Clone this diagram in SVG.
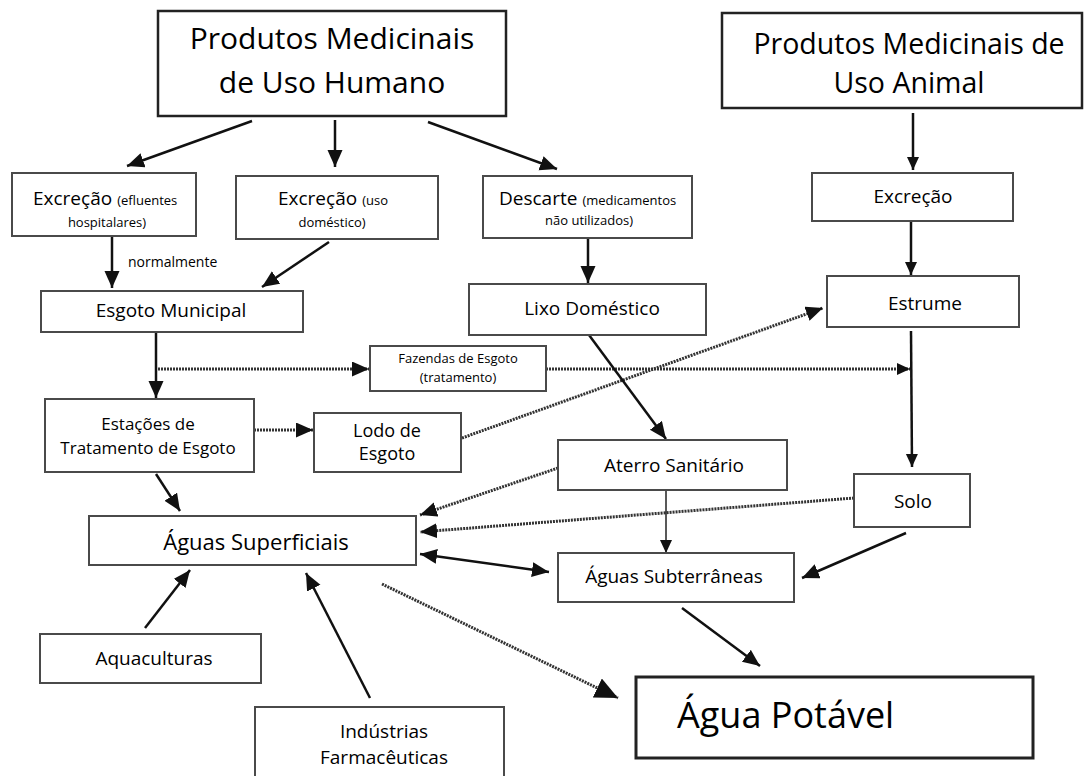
<svg xmlns="http://www.w3.org/2000/svg" width="1084" height="776" viewBox="0 0 1084 776">
<style>
.box{fill:#fff;stroke:#4a4a4a;stroke-width:2}
.hbox{fill:#fff;stroke:#222;stroke-width:2.5}
text{font-family:"Open Sans","Liberation Sans",sans-serif;fill:#000}
.c{text-anchor:middle}
.f19{font-size:19px}
.f13{font-size:13px}
.ln{fill:none;stroke:#111;stroke-width:2.5}
.thin{fill:none;stroke:#222;stroke-width:1.5}
.dot{fill:none;stroke:#333;stroke-width:3;stroke-dasharray:2 1}
</style>
<defs>
<marker id="ah" markerUnits="userSpaceOnUse" markerWidth="18" markerHeight="16" refX="17" refY="7.5" orient="auto-start-reverse">
<path d="M0,0 L17,7.5 L0,15 z" fill="#111"/>
</marker>
<marker id="ahs" markerUnits="userSpaceOnUse" markerWidth="14" markerHeight="13" refX="13" refY="6" orient="auto">
<path d="M0,0 L13,6 L0,12 z" fill="#111"/>
</marker>
<marker id="ahb" markerUnits="userSpaceOnUse" markerWidth="24" markerHeight="22" refX="23" refY="10.5" orient="auto">
<path d="M0,0 L23,10.5 L0,21 z" fill="#111"/>
</marker>
</defs>
<rect width="1084" height="776" fill="#fff"/>

<g id="connectors">
<line class="ln" x1="252" y1="121" x2="127" y2="166" marker-end="url(#ah)"/>
<line class="ln" x1="335" y1="120" x2="335" y2="167" marker-end="url(#ah)"/>
<line class="ln" x1="428" y1="122" x2="557" y2="169" marker-end="url(#ah)"/>
<line class="ln" x1="913" y1="113" x2="913" y2="170" marker-end="url(#ahs)"/>
<line class="ln" x1="112" y1="237" x2="112" y2="288" marker-end="url(#ah)"/>
<line class="ln" x1="329" y1="242" x2="262" y2="287" marker-end="url(#ah)"/>
<line class="ln" x1="588" y1="239" x2="588" y2="283" marker-end="url(#ah)"/>
<line class="ln" x1="911" y1="222" x2="911" y2="275" marker-end="url(#ahs)"/>
<line class="ln" x1="156" y1="333" x2="156" y2="398" marker-end="url(#ah)"/>
<line class="dot" x1="158" y1="369" x2="369" y2="369" marker-end="url(#ah)"/>
<line class="dot" x1="546" y1="369" x2="910" y2="369" marker-end="url(#ahs)"/>
<line class="ln" x1="911" y1="331" x2="912" y2="467" marker-end="url(#ahs)"/>
<line class="dot" x1="254" y1="430" x2="313" y2="430" marker-end="url(#ah)"/>
<line class="dot" x1="462" y1="438" x2="823" y2="308" marker-end="url(#ah)"/>
<line class="ln" x1="589" y1="335" x2="666" y2="439" marker-end="url(#ah)"/>
<line class="ln" x1="156" y1="474" x2="180" y2="511" marker-end="url(#ah)"/>
<line class="dot" x1="558" y1="468" x2="420" y2="515" marker-end="url(#ah)"/>
<line class="dot" x1="854" y1="498" x2="420" y2="532" marker-end="url(#ah)"/>
<line class="ln" x1="420" y1="554" x2="549" y2="572" marker-start="url(#ah)" marker-end="url(#ah)"/>
<line class="thin" x1="666" y1="490" x2="666" y2="553" marker-end="url(#ahs)"/>
<line class="ln" x1="906" y1="533" x2="802" y2="578" marker-end="url(#ah)"/>
<line class="ln" x1="682" y1="608" x2="760" y2="666" marker-end="url(#ah)"/>
<line class="dot" x1="382" y1="584" x2="618" y2="698" marker-end="url(#ahb)"/>
<line class="ln" x1="145" y1="628" x2="190" y2="570" marker-end="url(#ah)"/>
<line class="ln" x1="370" y1="698" x2="306" y2="573" marker-end="url(#ah)"/>
<text x="128" y="267" style="font-size:14px">normalmente</text>
</g>

<g id="humano">
<rect class="hbox" x="158" y="11" width="348" height="105"/>
<text class="c" x="332" y="49" style="font-size:30px">Produtos Medicinais</text>
<text class="c" x="332" y="93" style="font-size:30px">de Uso Humano</text>
</g>

<g id="animal">
<rect class="hbox" x="722" y="13" width="360" height="95"/>
<text class="c" x="909" y="54" style="font-size:28.5px">Produtos Medicinais de</text>
<text class="c" x="909" y="93" style="font-size:28.5px">Uso Animal</text>
</g>

<g id="excrecao-hospitalar">
<rect class="box" x="12" y="173" width="184" height="63"/>
<text x="33" y="205"><tspan class="f19">Excreção</tspan><tspan class="f13" dx="5">(efluentes</tspan></text>
<text class="c f13" x="107" y="227">hospitalares)</text>
</g>

<g id="excrecao-domestica">
<rect class="box" x="236" y="176" width="202" height="63"/>
<text x="278" y="205"><tspan class="f19">Excreção</tspan><tspan class="f13" dx="5">(uso</tspan></text>
<text class="c f13" x="332" y="227">doméstico)</text>
</g>

<g id="descarte">
<rect class="box" x="483" y="176" width="209" height="62"/>
<text x="499" y="205"><tspan class="f19">Descarte</tspan><tspan class="f13" dx="5">(medicamentos</tspan></text>
<text class="c f13" x="589" y="225">não utilizados)</text>
</g>

<g id="excrecao-animal">
<rect class="box" x="812" y="173" width="201" height="48"/>
<text class="c f19" x="913" y="203">Excreção</text>
</g>

<g id="esgoto-municipal">
<rect class="box" x="41" y="291" width="262" height="41"/>
<text class="c f19" x="171" y="317">Esgoto Municipal</text>
</g>

<g id="lixo-domestico">
<rect class="box" x="469" y="284" width="237" height="51"/>
<text class="c f19" x="592" y="315">Lixo Doméstico</text>
</g>

<g id="estrume">
<rect class="box" x="827" y="276" width="192" height="51"/>
<text class="c f19" x="925" y="310">Estrume</text>
</g>

<g id="fazendas">
<rect class="box" x="370" y="346" width="176" height="45"/>
<text class="c f13" x="458" y="363">Fazendas de Esgoto</text>
<text class="c f13" x="458" y="382">(tratamento)</text>
</g>

<g id="estacoes">
<rect class="box" x="45" y="399" width="209" height="73"/>
<text class="c" x="148" y="430" style="font-size:17px">Estações de</text>
<text class="c" x="148" y="454" style="font-size:17px">Tratamento de Esgoto</text>
</g>

<g id="lodo">
<rect class="box" x="314" y="413" width="147" height="59"/>
<text class="c" x="387" y="437" style="font-size:18px">Lodo de</text>
<text class="c" x="387" y="460" style="font-size:18px">Esgoto</text>
</g>

<g id="aterro">
<rect class="box" x="558" y="440" width="229" height="50"/>
<text class="c f19" x="674" y="472">Aterro Sanitário</text>
</g>

<g id="solo">
<rect class="box" x="854" y="474" width="116" height="53"/>
<text class="c f19" x="913" y="508">Solo</text>
</g>

<g id="aguas-superficiais">
<rect class="box" x="89" y="516" width="327" height="49"/>
<text class="c" x="256" y="550" style="font-size:22px">Águas Superficiais</text>
</g>

<g id="aguas-subterraneas">
<rect class="box" x="558" y="553" width="236" height="49"/>
<text class="c f19" x="674" y="583">Águas Subterrâneas</text>
</g>

<g id="aquaculturas">
<rect class="box" x="40" y="634" width="221" height="49"/>
<text class="c f19" x="154" y="665">Aquaculturas</text>
</g>

<g id="industrias">
<rect class="box" x="255" y="707" width="249" height="72"/>
<text class="c f19" x="384" y="738">Indústrias</text>
<text class="c f19" x="384" y="764">Farmacêuticas</text>
</g>

<g id="agua-potavel">
<rect x="636" y="677" width="397" height="81" fill="#fff" stroke="#222" stroke-width="3"/>
<text x="677" y="728" style="font-size:36px">Água Potável</text>
</g>
</svg>
